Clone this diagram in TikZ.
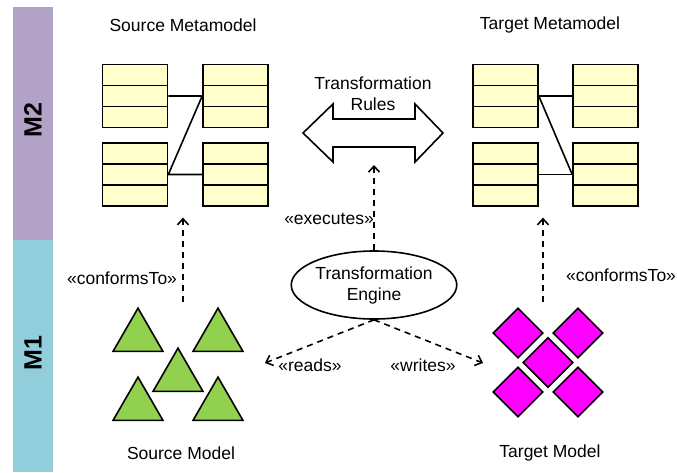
\documentclass[tikz,border=0pt]{standalone}
\usepackage{fontspec}
\setmainfont{Liberation Sans}
\usetikzlibrary{
  arrows.meta,       % Tip "Straight Barb"
  shapes.geometric,  % Shapes "ellipse", "diamond", "regular polygon"
  fit,               % Invisible nodes round groups
  positioning,
}
\definecolor{classyellow}{RGB}{255,255,204}
\definecolor{modelgreen}{RGB}{146,208,80}
\definecolor{modelmagenta}{RGB}{255,0,255}
\definecolor{levelpurple}{RGB}{178,162,199}
\definecolor{levelblue}{RGB}{146,205,220}
\tikzset{
  font=\fontsize{17.5}{21}\selectfont,
  every picture/.style={line width=1.6pt},
  inv/.style={
    draw=none,
    inner sep=0pt
  },
  my class/.style={
    draw,
    fill=classyellow,
    minimum width=65pt,
    minimum height=63pt,
    inner sep=0pt,
    path picture={
      \draw ([yshift=-21pt]path picture bounding box.north west)
         -- ([yshift=-21pt]path picture bounding box.north east);
      \draw ([yshift=21pt]path picture bounding box.south west)
         -- ([yshift=21pt]path picture bounding box.south east);
    }
  },
  my triangle/.style={
    draw,
    fill=modelgreen,
    regular polygon,
    regular polygon sides=3,
    minimum size=57.7pt,
    inner sep=0pt
  },
  my diamond/.style={
    draw,
    fill=modelmagenta,
    diamond,
    minimum width=50pt,
    minimum height=50pt,
    inner sep=0pt
  },
  my level/.style={
    inv,
    rotate=90,
    font=\bfseries\fontsize{25}{30}\selectfont
  },
  depends/.style={
    dash pattern=on 6pt off 5pt,
    -{Straight Barb[length=6pt,width=11pt]}
  }
}

\begin{document}
\begin{tikzpicture}[x=1pt,y=-1pt,line width=1.6pt]
\useasboundingbox (0,0) rectangle (677,472);
% levels
\fill[levelpurple] (13,7) rectangle (53,240);
\fill[levelblue] (13,240) rectangle (53,472);
\node[my level] (m2) at (33,120) {M2};
\node[my level] (m1) at (33,353) {M1};
% metamodels
\node[inv] (smmlabel) at (183,25) {Source Metamodel};
\node[my class] (sA) at (135,96) {};
\node[my class] (sB) at (235.5,96) {};
\node[my class] (sC) at (135,174.5) {};
\node[my class] (sD) at (235.5,174.5) {};
\node[inv] (tmmlabel) at (550,25) {Target Metamodel};
\node[my class] (tA) at (505.5,96) {};
\node[my class] (tB) at (605.5,96) {};
\node[my class] (tC) at (505.5,174.5) {};
\node[my class] (tD) at (605.5,174.5) {};
\draw (sA.east) -- (sB.west) -- (sC.east) -- (sD.west);
\draw (tA.east) -- (tB.west);
\draw (tA.east) -- (tD.west);
\draw (tC.east) -- (tD.west);
\node[inv,fit=(sA)(sD),inner ysep=10pt] (smm) {};
\node[inv,fit=(tA)(tD),inner ysep=10pt] (tmm) {};
% rules
\node[inv,align=center] (rules) at (373,94) {Transformation\\Rules};
\draw (303,133) -- (333,104) -- (333,119) -- (415,119) -- (415,104)
  -- (443,133) -- (415,162) -- (415,147) -- (333,147) -- (333,162) -- cycle;
\coordinate (rulesin) at (374,165);
% models
\node[my triangle] (t1) at (138,337) {};
\node[my triangle] (t2) at (218,337) {};
\node[my triangle] (t3) at (178,377) {};
\node[my triangle] (t4) at (138,406) {};
\node[my triangle] (t5) at (218,406) {};
\node[my diamond] (d1) at (518,333) {};
\node[my diamond] (d2) at (578,333) {};
\node[my diamond] (d3) at (548,362.5) {};
\node[my diamond] (d4) at (518,392) {};
\node[my diamond] (d5) at (578,392) {};
\node[inv,fit=(t1)(t5),inner sep=4pt] (smodel) {};
\node[inv,fit=(d1)(d5),inner sep=4pt] (tmodel) {};
\node[inv] (smlabel) at (181,453) {Source Model};
\node[inv] (tmlabel) at (550,453) {Target Model};
% engine
\node[draw,ellipse,minimum width=142pt,minimum height=68pt,inner sep=0pt,
  align=center] (engine) at (374,285) {Transformation\\Engine};
\coordinate (readend) at (265,363);
\coordinate (writeend) at (483,363);
\coordinate (sfoot) at ([xshift=5pt]smodel.north);
\coordinate (tfoot) at ([xshift=-5pt]tmodel.north);
% dependencies
\draw[depends] (sfoot) -- (sfoot |- smm.south);
\draw[depends] (tfoot) -- (tfoot |- tmm.south);
\draw[depends] (engine.north) -- (rulesin);
\draw[depends] (engine.south) -- (readend);
\draw[depends] (engine.south) -- (writeend);
\node[inv] (sconf) at (122,278) {«conformsTo»};
\node[inv] (tconf) at (621,275) {«conformsTo»};
\node[inv] (exec) at (329,219) {«executes»};
\node[inv] (reads) at (310,365) {«reads»};
\node[inv] (writes) at (423,365) {«writes»};
\end{tikzpicture}
\end{document}
